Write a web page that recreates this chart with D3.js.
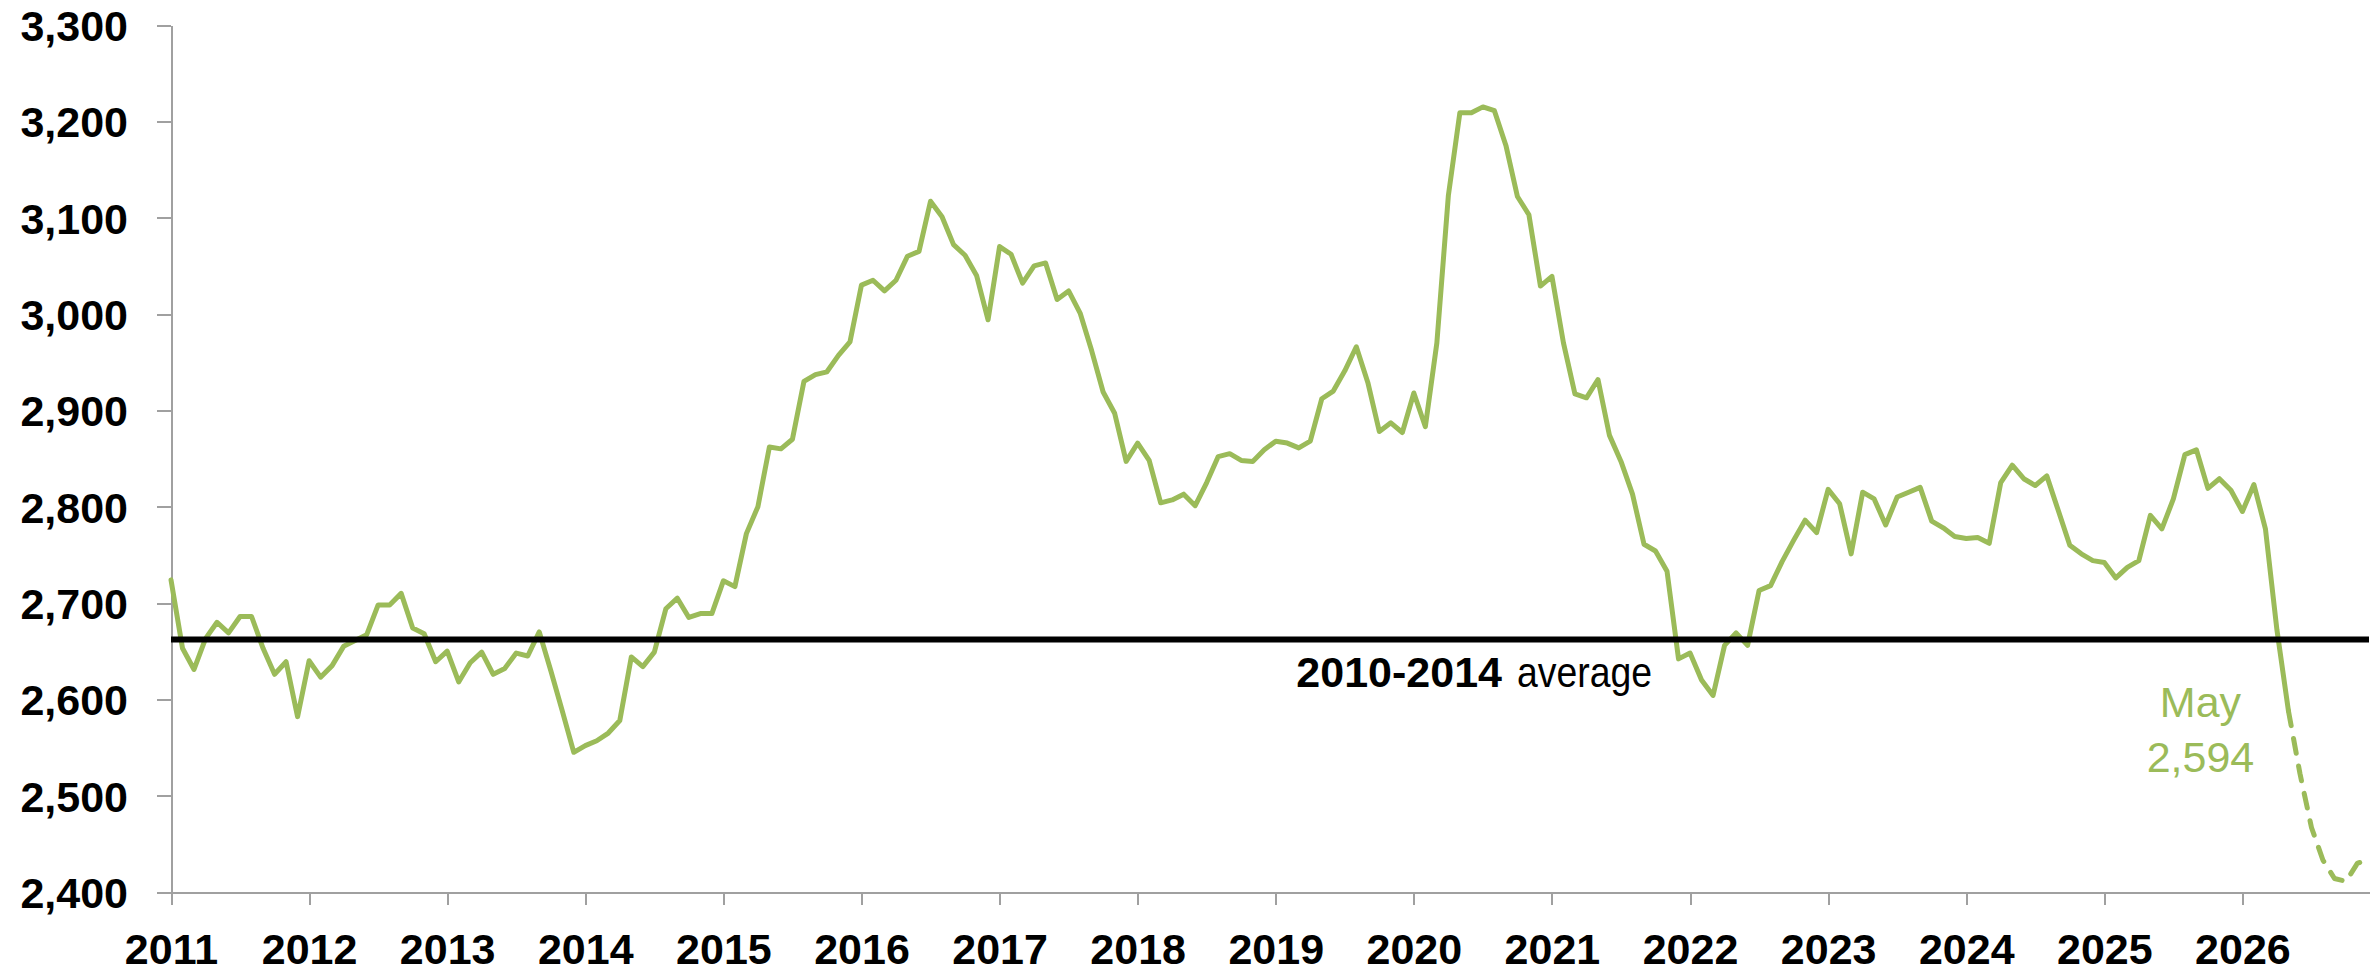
<!DOCTYPE html>
<html>
<head>
<meta charset="utf-8">
<script src="https://cdn.jsdelivr.net/npm/d3@7"></script>
<style>
body { margin: 0; background: #fff; }
.axis path, .axis line { stroke: #a0a0a0; stroke-width: 2; shape-rendering: crispEdges; }
.axis text { font-family: "Liberation Sans", Arial, sans-serif; font-size: 43px; font-weight: bold; fill: #000; }
.line { fill: none; stroke: #9bbb59; stroke-width: 5; stroke-linejoin: round; stroke-linecap: round; }
.avg-label { font-family: "Liberation Sans", Arial, sans-serif; font-size: 43px; fill: #000; }
.callout { font-family: "Liberation Sans", Arial, sans-serif; font-size: 43px; fill: #9bbb59; }
</style>
</head>
<body>
<div id="chart"></div>
<script>
// year labels, one per January
var years = ["2011", "2012", "2013", "2014", "2015", "2016", "2017", "2018",
	"2019", "2020", "2021", "2022", "2023", "2024", "2025", "2026"];

// monthly values, Jan 2011 - May 2026
var actual = [
	2724, 2653, 2631, 2663, 2680, 2669, 2686, 2686, 2653, 2626, 2639, 2582,
	2640, 2623, 2635, 2655, 2661, 2667, 2698, 2698, 2710, 2674, 2668, 2639,
	2650, 2618, 2638, 2649, 2626, 2632, 2648, 2645, 2670, 2630, 2588, 2545,
	2552, 2557, 2565, 2578, 2644, 2634, 2649, 2694, 2705, 2685, 2689, 2689,
	2723, 2717, 2772, 2800, 2862, 2860, 2870, 2930, 2937, 2940, 2957, 2971,
	3030, 3035, 3024, 3035, 3060, 3065, 3117, 3101, 3072, 3061, 3040, 2994,
	3070, 3062, 3032, 3050, 3053, 3015, 3024, 3001, 2962, 2919, 2897, 2847,
	2866, 2848, 2804, 2807, 2813, 2801, 2825, 2852, 2855, 2848, 2847, 2859,
	2868, 2866, 2861, 2868, 2912, 2920, 2941, 2966, 2929, 2878, 2887, 2877,
	2918, 2883, 2970, 3123, 3209, 3209, 3215, 3211, 3175, 3122, 3103, 3029,
	3039, 2970, 2917, 2913, 2932, 2874, 2847, 2813, 2761, 2754, 2733, 2642,
	2648, 2620, 2604, 2656, 2669, 2656, 2713, 2718, 2743, 2765, 2786, 2773,
	2818, 2803, 2751, 2815, 2808, 2781, 2810, 2815, 2820, 2785, 2778, 2769,
	2767, 2768, 2762, 2825, 2843, 2829, 2822, 2832, 2796, 2760, 2751, 2744,
	2742, 2726, 2737, 2744, 2791, 2777, 2808, 2854, 2859, 2819, 2829, 2817,
	2795, 2823, 2777, 2672, 2588
];

// dashed part, Jun - Dec 2026
var forecast = [2523, 2467, 2433, 2414, 2411, 2430, 2433];

var average = 2662;
var yTicks = [2400, 2500, 2600, 2700, 2800, 2900, 3000, 3100, 3200, 3300];
var calloutText = ["May", "2,594"];
var avgText = ["2010-2014", "average"];

var margin = {top: 25, right: 10, bottom: 81, left: 171},
	width = 2379 - margin.left - margin.right,
	height = 973 - margin.top - margin.bottom;

var nMonths = actual.length + forecast.length;

var x = d3.scaleLinear().domain([0, nMonths - 1]).range([0, width]),
	y = d3.scaleLinear().domain([2400, 3300]).range([height, 0]);

var svg = d3.select("#chart")
	.append("svg")
	.attr("width", width + margin.left + margin.right)
	.attr("height", height + margin.top + margin.bottom)
	.append("g")
	.attr("transform", "translate(" + margin.left + "," + margin.top + ")");

// axes
svg.append("g")
	.attr("class", "axis y-axis")
	.call(d3.axisLeft(y)
		.tickValues(yTicks)
		.tickSize(14)
		.tickSizeOuter(0)
		.tickPadding(29)
		.tickFormat(d3.format(",")));

svg.append("g")
	.attr("class", "axis x-axis")
	.attr("transform", "translate(0," + height + ")")
	.call(d3.axisBottom(x)
		.tickValues(years.map(function(d, i) { return i * 12; }))
		.tickSize(13)
		.tickSizeOuter(0)
		.tickPadding(28)
		.tickFormat(function(d, i) { return years[i]; }));

svg.selectAll(".y-axis text").attr("dy", "0.36em");

var line = d3.line()
	.x(function(d) { return x(d.i); })
	.y(function(d) { return y(d.v); });

var solid = actual.map(function(v, i) { return {i: i, v: v}; });
var last = solid[solid.length - 1];
var dashed = [last].concat(forecast.map(function(v, i) { return {i: last.i + 1 + i, v: v}; }));

svg.append("path")
	.datum(solid)
	.attr("class", "line")
	.attr("d", line);

svg.append("path")
	.datum(dashed)
	.attr("class", "line")
	.style("stroke-dasharray", "15,13")
	.attr("d", line);

// average line on top
svg.append("line")
	.attr("x1", x(0))
	.attr("x2", x(nMonths - 1))
	.attr("y1", y(average))
	.attr("y2", y(average))
	.attr("stroke", "#000")
	.attr("stroke-width", 6);

// label under the average line: bold years, narrow word
svg.append("text")
	.attr("class", "avg-label")
	.attr("x", 1502 - margin.left)
	.attr("y", y(average) + 47)
	.style("text-anchor", "end")
	.style("font-weight", "bold")
	.text(avgText[0]);

svg.append("text")
	.attr("class", "avg-label")
	.attr("x", 1517 - margin.left)
	.attr("y", y(average) + 47)
	.attr("textLength", 135)
	.attr("lengthAdjust", "spacingAndGlyphs")
	.text(avgText[1]);

// callout for last actual month
svg.selectAll(".callout")
	.data(calloutText)
	.enter()
	.append("text")
	.attr("class", "callout")
	.attr("x", x(last.i) - 88)
	.attr("y", function(d, i) { return y(last.v) + 6 + i * 55; })
	.style("text-anchor", "middle")
	.text(function(d) { return d; });
</script>
</body>
</html>
